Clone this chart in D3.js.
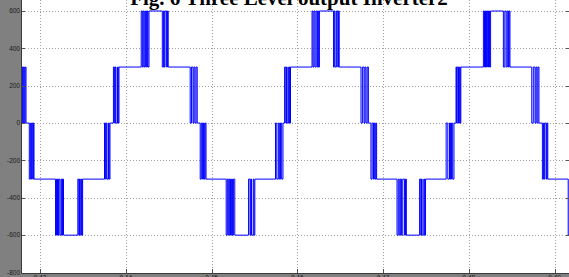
<!DOCTYPE html>
<html>
<head>
<meta charset="utf-8">
<script src="https://cdn.jsdelivr.net/npm/d3@7"></script>
<style>
body{margin:0;background:#fff}
svg{display:block}
</style>
</head>
<body>
<div id="canvas"></div>
<script>
// axis ticks
var xTicks = [0.43, 0.44, 0.45, 0.46, 0.47, 0.48, 0.49];
var yTicks = [600, 400, 200, 0, -200, -400, -600, -800];

// inverter output: level at the left edge, then switching bands
// each band toggles between [from, to] at the listed instants (s)
var startLevel = 300;
var bandLevels = [
  [300,0],[0,-300],[-300,-600],[-600,-300],[-300,0],[0,300],[300,600],[600,300],
  [300,0],[0,-300],[-300,-600],[-600,-300],[-300,0],[0,300],[300,600],[600,300],
  [300,0],[0,-300],[-300,-600],[-600,-300],[-300,0],[0,300],[300,600],[600,300],
  [300,0],[0,-300],[-300,-600]
];
var bandEdges = [
  [0.42797, 0.42806, 0.42817, 0.42827, 0.42837],
  [0.42875, 0.42888, 0.42899, 0.42907, 0.42916, 0.42923, 0.42930],
  [0.43181, 0.43192, 0.43204, 0.43216, 0.43231, 0.43245, 0.43253, 0.43262, 0.43274],
  [0.43441, 0.43452, 0.43461, 0.43470, 0.43483, 0.43490, 0.43497],
  [0.43752, 0.43765, 0.43773, 0.43781, 0.43799, 0.43807, 0.43816],
  [0.43856, 0.43870, 0.43878, 0.43886, 0.43904, 0.43913, 0.43921],
  [0.44180, 0.44193, 0.44204, 0.44216, 0.44229, 0.44243, 0.44251, 0.44259, 0.44271],
  [0.44426, 0.44441, 0.44449, 0.44458, 0.44476, 0.44486, 0.44495],
  [0.44751, 0.44766, 0.44784, 0.44795, 0.44807, 0.44820, 0.44833],
  [0.44868, 0.44881, 0.44896, 0.44906, 0.44916, 0.44926, 0.44936],
  [0.45171, 0.45184, 0.45196, 0.45208, 0.45221, 0.45234, 0.45244, 0.45255, 0.45271],
  [0.45432, 0.45449, 0.45457, 0.45466, 0.45486, 0.45495, 0.45505],
  [0.45746, 0.45761, 0.45779, 0.45791, 0.45804, 0.45818, 0.45833],
  [0.45852, 0.45866, 0.45874, 0.45882, 0.45899, 0.45910, 0.45921],
  [0.46172, 0.46183, 0.46195, 0.46207, 0.46220, 0.46233, 0.46240, 0.46246, 0.46258],
  [0.46423, 0.46431, 0.46440, 0.46456, 0.46472, 0.46480, 0.46489],
  [0.46743, 0.46759, 0.46778, 0.46789, 0.46801, 0.46815, 0.46829],
  [0.46859, 0.46873, 0.46889, 0.46897, 0.46906, 0.46915, 0.46925],
  [0.47163, 0.47177, 0.47189, 0.47202, 0.47216, 0.47230, 0.47251, 0.47262, 0.47272],
  [0.47426, 0.47440, 0.47448, 0.47456, 0.47475, 0.47485, 0.47495],
  [0.47736, 0.47755, 0.47775, 0.47786, 0.47798, 0.47812, 0.47827],
  [0.47851, 0.47858, 0.47865, 0.47880, 0.47893, 0.47900, 0.47907],
  [0.48170, 0.48183, 0.48195, 0.48206, 0.48217, 0.48230, 0.48236, 0.48242, 0.48254],
  [0.48403, 0.48420, 0.48436, 0.48449, 0.48462, 0.48471, 0.48480],
  [0.48734, 0.48752, 0.48772, 0.48783, 0.48795, 0.48806, 0.48818],
  [0.48858, 0.48872, 0.48880, 0.48888, 0.48905, 0.48913, 0.48921],
  [0.49159, 0.49172, 0.49185]
];

var W = 569, H = 277;
var left = 22, right = 570, bottom = 273;

var svg = d3.select('#canvas')
    .append('svg')
    .attr('width', W)
    .attr('height', H);

var x = d3.scaleLinear().domain([0.4279, 0.4918]).range([left, right]);
var y = d3.scaleLinear().domain([-800, 600]).range([272.5, 11]);

//gray figure background around the axes
svg.append('rect').attr('x', 0).attr('y', 0).attr('width', left).attr('height', H).style('fill', '#808080');
svg.append('rect').attr('x', 0).attr('y', bottom).attr('width', W).attr('height', H - bottom).style('fill', '#808080');

var plot = svg.append('g');

//grid
plot.selectAll('.vgrid')
    .data(xTicks)
    .enter()
    .append('line').attr('class', 'vgrid')
    .attr('x1', function(d){ return Math.round(x(d)) + 0.5; })
    .attr('x2', function(d){ return Math.round(x(d)) + 0.5; })
    .attr('y1', 0).attr('y2', bottom)
    .style('stroke', '#a0a0a0').style('stroke-dasharray', '1,2');

plot.selectAll('.hgrid')
    .data(yTicks)
    .enter()
    .append('line').attr('class', 'hgrid')
    .attr('x1', left).attr('x2', right)
    .attr('y1', function(d){ return Math.round(y(d)) + 0.5; })
    .attr('y2', function(d){ return Math.round(y(d)) + 0.5; })
    .style('stroke', '#a0a0a0').style('stroke-dasharray', '1,2');

//waveform
var pts = [[x.domain()[0], startLevel]];
bandEdges.forEach(function(edges, i){
    edges.forEach(function(t, j){
        pts.push([t, j % 2 === 0 ? bandLevels[i][1] : bandLevels[i][0]]);
    });
});
pts.push([x.domain()[1], pts[pts.length - 1][1]]);

svg.append('clipPath').attr('id', 'clip')
    .append('rect').attr('x', left).attr('y', 0).attr('width', right - left).attr('height', bottom);

var line = d3.line()
    .x(function(d){ return x(d[0]); })
    .y(function(d){ return y(d[1]); })
    .curve(d3.curveStepAfter);

plot.append('path')
    .datum(pts)
    .attr('clip-path', 'url(#clip)')
    .attr('d', line)
    .style('fill', 'none')
    .style('stroke', '#0000ff')
    .style('stroke-width', 1);

//ticks
plot.selectAll('.xtick')
    .data(xTicks)
    .enter()
    .append('line').attr('class', 'xtick')
    .attr('x1', function(d){ return Math.round(x(d)) + 0.5; })
    .attr('x2', function(d){ return Math.round(x(d)) + 0.5; })
    .attr('y1', bottom - 4).attr('y2', bottom)
    .style('stroke', '#555');

plot.selectAll('.ytick')
    .data(yTicks)
    .enter()
    .append('g').attr('class', 'ytick')
    .each(function(d){
        var yy = Math.round(y(d)) + 0.5;
        d3.select(this).append('line')
            .attr('x1', left).attr('x2', left + 3).attr('y1', yy).attr('y2', yy).style('stroke', '#555');
        d3.select(this).append('line')
            .attr('x1', right - 4).attr('x2', right).attr('y1', yy).attr('y2', yy).style('stroke', '#555');
    });

//spines
plot.append('line').attr('x1', left - 0.5).attr('x2', left - 0.5).attr('y1', 0).attr('y2', bottom + 0.5)
    .style('stroke', '#3a3a3a');
plot.append('line').attr('x1', left - 0.5).attr('x2', right).attr('y1', bottom + 0.5).attr('y2', bottom + 0.5)
    .style('stroke', '#3a3a3a');

//labels
svg.selectAll('.ylab')
    .data(yTicks)
    .enter()
    .append('text').attr('class', 'ylab')
    .attr('x', 20)
    .attr('y', function(d){ return y(d) + 2.3; })
    .attr('text-anchor', 'end')
    .style('font-family', 'Liberation Sans, Arial, sans-serif')
    .style('font-size', '6.5px')
    .style('fill', '#1a1a1a')
    .text(function(d){ return d; });

svg.selectAll('.xlab')
    .data(xTicks)
    .enter()
    .append('text').attr('class', 'xlab')
    .attr('x', function(d){ return x(d); })
    .attr('y', 280)
    .attr('text-anchor', 'middle')
    .style('font-family', 'Liberation Sans, Arial, sans-serif')
    .style('font-size', '6.5px')
    .style('fill', '#1a1a1a')
    .text(function(d){ return d3.format('.2f')(d); });

svg.append('text')
    .attr('x', 289)
    .attr('y', 5)
    .attr('text-anchor', 'middle')
    .style('font-family', 'Liberation Serif, Times New Roman, serif')
    .style('font-weight', 'bold')
    .style('font-size', '21px')
    .style('fill', '#000')
    .text('Fig. 6 Three Level output Inverter2');
</script>
</body>
</html>
